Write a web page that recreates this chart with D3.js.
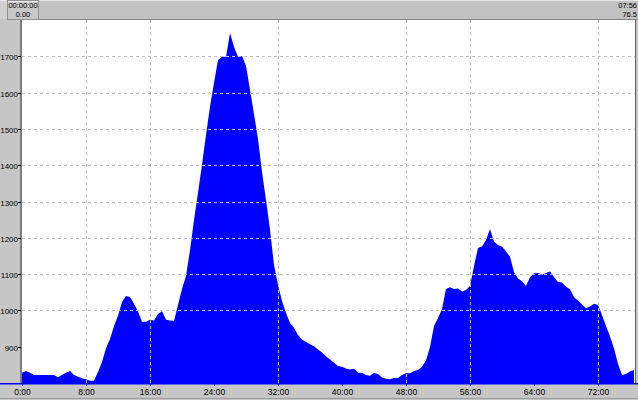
<!DOCTYPE html>
<html><head><meta charset="utf-8">
<script src="https://cdn.jsdelivr.net/npm/d3@7"></script>
<style>html,body{margin:0;padding:0;background:#c6c6c6;overflow:hidden}svg{display:block}</style>
</head><body>
<svg id="c" width="638" height="400"></svg>
<script>
// distance samples (every 0.5 units)
const dist = d3.range(0, 77, 0.5);
const elevation = [
828,833,828,822,822,822,822,822,822,816,822,828,833,822,817,813,810,806,806,830,
858,896,921,957,985,1023,1040,1037,1018,998,969,969,974,972,990,998,974,972,971,1015,
1059,1095,1166,1249,1324,1401,1483,1561,1627,1690,1699,1699,1764,1726,1698,1701,1674,1607,1541,1472,
1381,1304,1222,1125,1070,1026,993,965,952,932,920,913,907,901,892,884,874,865,856,847,
845,840,837,839,828,828,822,820,828,825,815,812,810,814,814,822,827,827,833,836,
845,863,899,957,979,1004,1059,1064,1059,1060,1052,1056,1067,1122,1172,1176,1194,1224,1190,1180,
1176,1162,1148,1106,1088,1080,1067,1091,1102,1103,1098,1103,1107,1092,1078,1077,1065,1058,1036,1027,
1016,1006,1011,1018,1015,987,957,928,896,852,822,825,832,836];
const xTicks = [0,8,16,24,32,40,48,56,64,72];
const xTickLabels = ["0:00","8:00","16:00","24:00","32:00","40:00","48:00","56:00","64:00","72:00"];
const xGrid = [8,16,32,48,56,72];
const yTicks = [900,1000,1100,1200,1300,1400,1500,1600,1700];
const yGrid = [1000,1100,1200,1300,1400,1500,1600,1700];
const headerLeft = ["00:00:00","0.00"];
const headerRight = ["07:56","76.5"];

const data = dist.map((d,i)=>({d, v: elevation[i]}));
const svg = d3.select("#c");
const W=638,H=400;
const L=22,R=635,T=20,B=383;
const x = d3.scaleLinear().domain([0,76.5]).range([L,634]);
const y = d3.scaleLinear().domain([800,1800]).range([B,T]);
const font = "Liberation Sans, Arial, sans-serif";

// background panels
svg.append("rect").attr("x",0).attr("y",0).attr("width",W).attr("height",H).attr("fill","#c6c6c6");
// header
svg.append("rect").attr("x",0).attr("y",0).attr("width",W).attr("height",19).attr("fill","#c2c2c2");
svg.append("line").attr("x1",0).attr("x2",W).attr("y1",0.5).attr("y2",0.5).attr("stroke","#e8e8e8");
svg.append("line").attr("x1",22).attr("x2",W).attr("y1",19.5).attr("y2",19.5).attr("stroke","#808080");
svg.append("rect").attr("x",0).attr("y",1).attr("width",7).attr("height",18).attr("fill","#d0d0d0");
svg.append("rect").attr("x",7.5).attr("y",0.5).attr("width",31).attr("height",19).attr("fill","#c8c8c8").attr("stroke","#909090");
svg.append("line").attr("x1",8).attr("x2",38).attr("y1",1.5).attr("y2",1.5).attr("stroke","#f0f0f0");
svg.append("text").attr("x",23).attr("y",8).attr("text-anchor","middle").attr("font-family",font).attr("font-size",7.5).attr("fill","#000").text(headerLeft[0]);
svg.append("text").attr("x",23).attr("y",17).attr("text-anchor","middle").attr("font-family",font).attr("font-size",7.5).attr("fill","#000").text(headerLeft[1]);
svg.append("text").attr("x",637).attr("y",8).attr("text-anchor","end").attr("font-family",font).attr("font-size",7.5).attr("fill","#000").text(headerRight[0]);
svg.append("text").attr("x",637).attr("y",17).attr("text-anchor","end").attr("font-family",font).attr("font-size",7.5).attr("fill","#000").text(headerRight[1]);

// left panel edge
svg.append("rect").attr("x",20).attr("y",20).attr("width",2).attr("height",B-20).attr("fill","#7c7c7c");

// plot area
svg.append("rect").attr("x",L).attr("y",T).attr("width",R-L).attr("height",B-T).attr("fill","#ffffff");

// area
const area = d3.area().x(d=>x(d.d)).y0(B).y1(d=>y(d.v)).curve(d3.curveLinear);
svg.append("path").datum(data).attr("d",area).attr("fill","#0000ff");

// grid
const g = svg.append("g").attr("stroke","#c0c0c0").attr("stroke-dasharray","3,3").attr("stroke-width",1);
yGrid.forEach(v=>{
  g.append("line").attr("x1",L).attr("x2",R).attr("y1",Math.round(y(v))+0.5).attr("y2",Math.round(y(v))+0.5);
});
xGrid.forEach(v=>{
  g.append("line").attr("y1",T).attr("y2",B).attr("x1",Math.round(x(v))+0.5).attr("x2",Math.round(x(v))+0.5);
});

// right border
svg.append("line").attr("x1",635.5).attr("x2",635.5).attr("y1",T).attr("y2",B).attr("stroke","#606060");

// y ticks & labels
yTicks.forEach(v=>{
  const yy = Math.round(y(v))+0.5;
  svg.append("line").attr("x1",18).attr("x2",21).attr("y1",yy).attr("y2",yy).attr("stroke","#000");
  svg.append("text").attr("x",18).attr("y",yy+3).attr("text-anchor","end")
    .attr("font-family",font).attr("font-size",8).attr("fill","#000").text(v);
});

// bottom axis band
svg.append("rect").attr("x",0).attr("y",B+1).attr("width",W).attr("height",H-B-1).attr("fill","#c6c6c6");
svg.append("line").attr("x1",0).attr("x2",W).attr("y1",398.5).attr("y2",398.5).attr("stroke","#9a9a9a");
svg.append("rect").attr("x",0).attr("y",B).attr("width",W).attr("height",1.5).attr("fill","#0000ff");
xTicks.forEach((v,i)=>{
  const xx = Math.round(x(v))+0.5;
  svg.append("line").attr("x1",xx).attr("x2",xx).attr("y1",B).attr("y2",B+3).attr("stroke","#0000ff");
  svg.append("text").attr("x",xx).attr("y",395).attr("text-anchor","middle")
    .attr("font-family",font).attr("font-size",8.5).attr("fill","#000").text(xTickLabels[i]);
});
</script>
</body></html>
